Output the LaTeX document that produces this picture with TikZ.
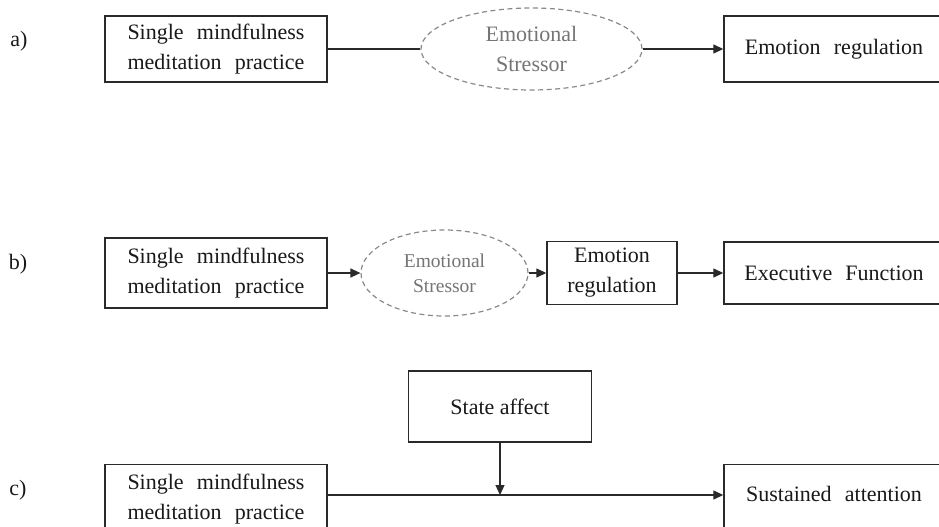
\documentclass[tikz,border=0pt]{standalone}
\usepackage{fontspec}
\setmainfont{Liberation Serif}
\usetikzlibrary{arrows.meta,shapes.geometric}
\newcommand\WS{\hspace{0.6em}}
\definecolor{lineblk}{HTML}{2A2A2A}
\definecolor{dashgray}{HTML}{8A8A8A}
\definecolor{txtgray}{HTML}{757575}
\tikzset{
  box/.style={draw=lineblk, line width=1.4pt, rectangle, inner sep=0pt, align=center,
    font=\fontsize{22}{30}\selectfont, text=black!90},
  stressor/.style={draw=dashgray, line width=1.2pt, dash pattern=on 5pt off 3.5pt,
    ellipse, inner sep=0pt, align=center, text=txtgray},
  conn/.style={draw=lineblk, line width=1.3pt},
  arr/.style={conn, -{Triangle[length=10pt,width=9pt]}},
  lbl/.style={font=\fontsize{22}{30}\selectfont, text=black!90, inner sep=0pt}
}
\begin{document}
\begin{tikzpicture}[x=1pt,y=-1pt]
\useasboundingbox (0,0) rectangle (939,527);
\clip (0,0) rectangle (939,527);
\fill[white] (0,0) rectangle (939,527);

% ---- a) ----
\node[lbl] (la) at (19,41) {a)};
\node[box, minimum width=222pt, minimum height=66pt] (a1) at (216,49)
  {Single\WS mindfulness\\meditation\WS practice};
\node[stressor, minimum width=221pt, minimum height=82pt,
  font=\fontsize{22}{30}\selectfont] (ea) at (531.5,49) {Emotional\\Stressor};
\node[box, minimum width=220pt, minimum height=66pt] (a2) at (834,49)
  {Emotion\WS regulation};
\draw[conn] (a1.east) -- (ea.west);
\draw[arr] (ea.east) -- (a2.west);

% ---- b) ----
\node[lbl] (lb) at (18,264) {b)};
\node[box, minimum width=222pt, minimum height=70pt] (b1) at (216,273)
  {Single\WS mindfulness\\meditation\WS practice};
\node[stressor, minimum width=167pt, minimum height=86pt,
  font=\fontsize{19.5}{25}\selectfont] (eb) at (444.5,273) {Emotional\\Stressor};
\node[box, minimum width=130pt, minimum height=63pt] (b2) at (612,273)
  {Emotion\\regulation};
\node[box, minimum width=220pt, minimum height=62pt] (b3) at (834,273)
  {Executive\WS Function};
\draw[arr] (b1.east) -- (eb.west);
\draw[arr] (eb.east) -- (b2.west);
\draw[arr] (b2.east) -- (b3.west);

% ---- c) ----
\node[lbl] (lc) at (18,490) {c)};
\node[box, minimum width=183pt, minimum height=71pt] (sa) at (500,406.5)
  {State affect};
\node[box, anchor=north, minimum width=222pt, text height=55pt, text depth=40pt] (c1) at (216,464)
  {Single\WS mindfulness\\meditation\WS practice};
\node[box, anchor=north, minimum width=220pt, text height=37pt, text depth=60pt] (c2) at (834,464)
  {Sustained\WS attention};
\coordinate (j) at (sa.south |- 0,495);
\draw[conn] (j -| c1.east) -- (j);
\draw[arr] (j) -- (j -| c2.west);
\draw[arr] (sa.south) -- (j);
\end{tikzpicture}
\end{document}
